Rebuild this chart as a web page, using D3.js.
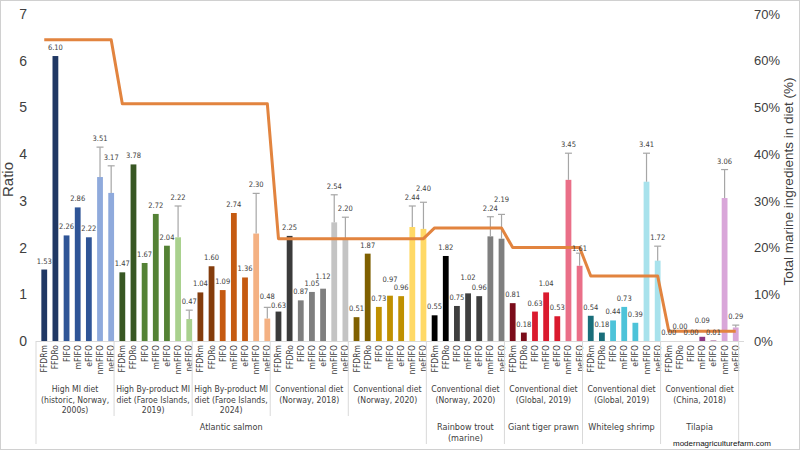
<!DOCTYPE html>
<html>
<head>
<meta charset="utf-8">
<script src="https://cdn.jsdelivr.net/npm/d3@7"></script>
<style>
  body { margin: 0; background: #fff; }
  text { font-family: "Liberation Sans", Arial, sans-serif; }
  .narrow { font-family: "Liberation Sans Narrow", "DejaVu Sans Condensed", "Liberation Sans", sans-serif; }
</style>
</head>
<body>
<div id="chart"></div>
<script>
const barLabels = ["FFDRm", "FFDRo", "FIFO", "mFIFO", "eFIFO", "nmFIFO", "neFIFO"];

const dietLabels = [
    ["High MI diet", "(historic, Norway,", "2000s)"],
    ["High By-product MI", "diet (Faroe Islands,", "2019)"],
    ["High By-product MI", "diet (Faroe Islands,", "2024)"],
    ["Conventional diet", "(Norway, 2018)"],
    ["Conventional diet", "(Norway, 2020)"],
    ["Conventional diet", "(Norway, 2020)"],
    ["Conventional diet", "(Global, 2019)"],
    ["Conventional diet", "(Global, 2019)"],
    ["Conventional diet", "(China, 2018)"]
];

// species: label lines, first group index, last group index
const species = [
    { name: ["Atlantic salmon"], from: 0, to: 4 },
    { name: ["Rainbow trout", "(marine)"], from: 5, to: 5 },
    { name: ["Giant tiger prawn"], from: 6, to: 6 },
    { name: ["Whiteleg shrimp"], from: 7, to: 7 },
    { name: ["Tilapia"], from: 8, to: 8 }
];

const ratios = [
    [1.53, 6.10, 2.26, 2.86, 2.22, 3.51, 3.17],
    [1.47, 3.78, 1.67, 2.72, 2.04, 2.22, 0.47],
    [1.04, 1.60, 1.09, 2.74, 1.36, 2.30, 0.48],
    [0.63, 2.25, 0.87, 1.05, 1.12, 2.54, 2.20],
    [0.51, 1.87, 0.73, 0.97, 0.96, 2.44, 2.40],
    [0.55, 1.82, 0.75, 1.02, 0.96, 2.24, 2.19],
    [0.81, 0.18, 0.63, 1.04, 0.53, 3.45, 1.61],
    [0.54, 0.18, 0.44, 0.73, 0.39, 3.41, 1.72],
    [0.00, 0.00, 0.00, 0.09, 0.01, 3.06, 0.29]
];

// upper ends of the error bars for nmFIFO and neFIFO
const errorTops = [
    [4.15, 3.75],
    [2.89, 0.66],
    [3.16, 0.72],
    [3.13, 2.65],
    [2.89, 2.97],
    [2.66, 2.71],
    [4.02, 1.88],
    [4.02, 2.03],
    [3.67, 0.34]
];

// total marine ingredients in diet (%)
const marinePct = [64.5, 50.8, 50.8, 21.9, 21.9, 24.2, 20.0, 13.9, 2.1];

const ratioTicks = [0, 1, 2, 3, 4, 5, 6, 7];
const pctTicks = [0, 10, 20, 30, 40, 50, 60, 70];

// dark (FFDR), mid (FIFO, mFIFO, eFIFO), light (nm/ne)
const palette = [
    ["#203864", "#2F5597", "#8FAADC"],
    ["#385723", "#548235", "#A9D18E"],
    ["#843C0C", "#C55A11", "#F4B183"],
    ["#3B3B3B", "#7F7F7F", "#C4C4C4"],
    ["#7F6000", "#BF9000", "#FFD966"],
    ["#000000", "#3F3F3F", "#7F7F7F"],
    ["#7B0C1A", "#DA1A2E", "#EA6F88"],
    ["#1A6E7A", "#4DC3D9", "#A8E2EC"],
    ["#7B2C6E", "#8E3A86", "#D9A6D9"]
];

// small vertical nudges (px) for crowded value labels
const labelNudge = {
    "2-6": -2, "3-0": 2, "3-4": -4, "4-3": -8, "4-6": -5,
    "5-3": -7, "5-6": -6, "6-6": 4, "8-1": -6, "8-3": -8
};

const W = 800, H = 450;
const plotLeft = 36, plotRight = 744, plotTop = 14, base = 341;

const data = [];
ratios.forEach((vals, g) => {
    vals.forEach((v, i) => {
        data.push({
            g, i,
            key: `${g}-${i}`,
            label: barLabels[i],
            value: v,
            err: i === 5 ? errorTops[g][0] : i === 6 ? errorTops[g][1] : null,
            pct: marinePct[g],
            color: palette[g][i < 2 ? 0 : i < 5 ? 1 : 2]
        });
    });
});

const svg = d3.select("#chart").append("svg")
    .attr("width", W).attr("height", H);

svg.append("rect")
    .attr("x", 0.5).attr("y", 0.5)
    .attr("width", W - 1).attr("height", H - 1)
    .attr("fill", "#fff").attr("stroke", "#d0d0d0");

const x = d3.scaleBand()
    .domain(data.map(d => d.key))
    .range([plotLeft, plotRight])
    .padding(0.48);

const y = d3.scaleLinear().domain([0, 7]).range([base, plotTop]);
const y2 = d3.scaleLinear().domain([0, 70]).range([base, plotTop]);

// Left axis
const yAxis = svg.append("g")
    .attr("transform", `translate(27,0)`)
    .call(d3.axisLeft(y).tickValues(ratioTicks).tickFormat(d3.format("d")).tickSize(0).tickPadding(0));
yAxis.select(".domain").remove();
yAxis.selectAll("text")
    .style("font-size", "14px").attr("fill", "#404040");

svg.append("text")
    .attr("transform", `translate(13,${(plotTop + base) / 2 + 2}) rotate(-90)`)
    .attr("text-anchor", "middle")
    .style("font-size", "15px").attr("fill", "#404040")
    .text("Ratio");

// Right axis
const y2Axis = svg.append("g")
    .attr("transform", `translate(754,0)`)
    .call(d3.axisRight(y2).tickValues(pctTicks).tickFormat(d => d + "%").tickSize(0).tickPadding(0));
y2Axis.select(".domain").remove();
y2Axis.selectAll("text")
    .style("font-size", "13px").attr("fill", "#404040");

svg.append("text")
    .attr("transform", `translate(793,${(plotTop + base) / 2 + 4}) rotate(-90)`)
    .attr("text-anchor", "middle")
    .style("font-size", "13.5px").attr("fill", "#404040")
    .text("Total marine ingredients in diet (%)");

// Bars
svg.selectAll(".bar")
    .data(data)
    .join("rect")
    .attr("x", d => x(d.key))
    .attr("y", d => y(d.value))
    .attr("width", x.bandwidth())
    .attr("height", d => base - y(d.value))
    .attr("fill", d => d.color);

// Error bars
const errs = data.filter(d => d.err !== null);
const cx = d => x(d.key) + x.bandwidth() / 2;

svg.selectAll(".err")
    .data(errs)
    .join("line")
    .attr("x1", cx).attr("x2", cx)
    .attr("y1", d => y(d.value)).attr("y2", d => y(d.err))
    .attr("stroke", "#A6A6A6").attr("stroke-width", 1.2);

svg.selectAll(".cap")
    .data(errs)
    .join("line")
    .attr("x1", d => cx(d) - 3.5).attr("x2", d => cx(d) + 3.5)
    .attr("y1", d => y(d.err)).attr("y2", d => y(d.err))
    .attr("stroke", "#A6A6A6").attr("stroke-width", 1.2);

// Baseline
svg.append("line")
    .attr("x1", plotLeft).attr("x2", plotRight)
    .attr("y1", base + 0.5).attr("y2", base + 0.5)
    .attr("stroke", "#d9d9d9");

// Marine ingredients line
const line = d3.line()
    .x(cx)
    .y(d => y2(d.pct));

svg.append("path")
    .datum(data)
    .attr("fill", "none")
    .attr("stroke", "#E2843F")
    .attr("stroke-width", 3)
    .attr("stroke-linejoin", "round")
    .attr("d", line);

// Value labels
svg.selectAll(".val")
    .data(data)
    .join("text")
    .attr("class", "narrow")
    .attr("x", cx)
    .attr("y", d => y(d.err !== null ? d.err : d.value) - 6 + (labelNudge[d.key] || 0))
    .attr("text-anchor", "middle")
    .style("font-size", "7.5px")
    .attr("fill", "#404040")
    .text(d => d.value.toFixed(2));

// Category labels (rotated)
svg.selectAll(".cat")
    .data(data)
    .join("text")
    .attr("class", "narrow")
    .attr("transform", d => `translate(${cx(d) + 3},${base + 4}) rotate(-90)`)
    .attr("text-anchor", "end")
    .style("font-size", "8.5px")
    .attr("fill", "#404040")
    .text(d => d.label);

// Group separators and labels
const edges = d3.range(ratios.length + 1).map(g =>
    plotLeft + g * barLabels.length * x.step()
);

const speciesEdges = new Set([0, ...species.map(s => s.to + 1)]);

svg.selectAll(".sep")
    .data(edges)
    .join("line")
    .attr("x1", d => d).attr("x2", d => d)
    .attr("y1", base)
    .attr("y2", (d, i) => speciesEdges.has(i) ? 444 : 416)
    .attr("stroke", "#d9d9d9");

dietLabels.forEach((lines, g) => {
    const mid = (edges[g] + edges[g + 1]) / 2;
    svg.append("text")
        .attr("class", "narrow")
        .attr("x", mid)
        .attr("y", 392)
        .attr("text-anchor", "middle")
        .style("font-size", "8.6px")
        .attr("fill", "#404040")
        .selectAll("tspan")
        .data(lines)
        .join("tspan")
        .attr("x", mid)
        .attr("dy", (d, i) => i === 0 ? 0 : 10.5)
        .text(d => d);
});

species.forEach(s => {
    const mid = (edges[s.from] + edges[s.to + 1]) / 2;
    svg.append("text")
        .attr("class", "narrow")
        .attr("x", mid)
        .attr("y", 430)
        .attr("text-anchor", "middle")
        .style("font-size", "9px")
        .attr("fill", "#404040")
        .selectAll("tspan")
        .data(s.name)
        .join("tspan")
        .attr("x", mid)
        .attr("dy", (d, i) => i === 0 ? 0 : 11)
        .text(d => d);
});

svg.append("text")
    .attr("x", 673).attr("y", 446)
    .style("font-size", "8px")
    .attr("fill", "#111")
    .text("modernagriculturefarm.com");
</script>
</body>
</html>
